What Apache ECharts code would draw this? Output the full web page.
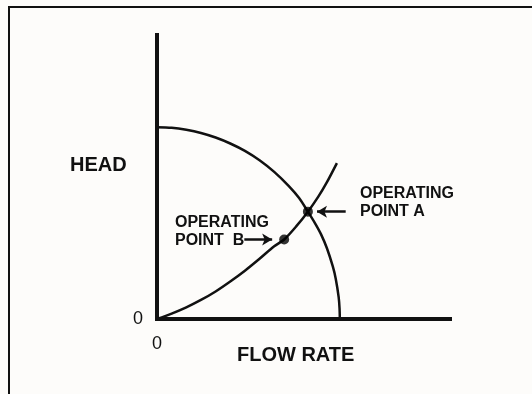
<!DOCTYPE html>
<html>
<head>
<meta charset="utf-8">
<script src="https://cdn.jsdelivr.net/npm/echarts@6/dist/echarts.min.js"></script>
<style>
  html, body { margin: 0; padding: 0; background: #fdfcfa; }
  #chart { width: 532px; height: 394px; }
</style>
</head>
<body>
<div id="chart"></div>
<script>
// Pump characteristic (head falls as flow rises), in percent of axis range
const pumpCurve = [
  [0, 67.5], [5, 67.3], [10, 66.6], [15, 65.5], [20, 63.9], [25, 61.8],
  [30, 59.2], [35, 55.9], [40, 51.8], [45, 46.8], [48.5, 42.6], [51.5, 37.8],
  [54, 33.6], [56, 29.8], [58, 24.9], [60, 18.5], [61, 14.2], [62, 7.7],
  [62.3, 3.8], [62.4, 0]
];
// System resistance curve (head rises with flow)
const systemCurve = [
  [0, 0], [5, 1.9], [10, 4.1], [15, 6.7], [20, 9.7], [25, 13.2], [30, 17],
  [35, 21.2], [40, 25.6], [43.4, 28], [47.5, 32.6], [51.5, 37.8], [55, 43],
  [58, 48.2], [61.4, 54.9]
];
// Operating points on the system curve
const operatingPoints = [
  { name: 'A', value: [51.5, 37.8] },
  { name: 'B', value: [43.4, 28] }
];
// Pointer arrows: [from, to] for each operating point
const arrowA = [[64.4, 37.8], [54.6, 37.8]];
const arrowB = [[29.8, 28], [39.3, 28]];
const axisTitles = { y: 'HEAD', x: 'FLOW RATE' };

const FONT = '"Liberation Sans", Arial, Helvetica, sans-serif';
const INK = '#111';

const chart = echarts.init(document.getElementById('chart'), null, { renderer: 'canvas' });

const zeroOnly = v => (v === 0 ? '0' : '');

chart.setOption({
  backgroundColor: '#fdfcfa',
  animation: false,
  grid: { left: 157, right: 82, top: 35, bottom: 75, containLabel: false },
  xAxis: {
    type: 'value', min: 0, max: 100, interval: 100,
    axisLine: { show: true, onZero: false, lineStyle: { color: INK, width: 4, cap: 'square' } },
    axisTick: { show: false },
    splitLine: { show: false },
    axisLabel: { formatter: zeroOnly, color: INK, fontSize: 18, fontFamily: FONT, margin: 16 }
  },
  yAxis: {
    type: 'value', min: 0, max: 100, interval: 100,
    axisLine: { show: true, onZero: false, lineStyle: { color: INK, width: 4, cap: 'square' } },
    axisTick: { show: false },
    splitLine: { show: false },
    axisLabel: { formatter: zeroOnly, color: INK, fontSize: 18, fontFamily: FONT, margin: 14 }
  },
  series: [
    {
      type: 'line', data: pumpCurve, smooth: 0.3, showSymbol: false,
      lineStyle: { color: INK, width: 2.5 }, z: 3
    },
    {
      type: 'line', data: systemCurve, smooth: 0.3, showSymbol: false,
      lineStyle: { color: INK, width: 2.5 }, z: 3,
      markLine: {
        silent: true,
        symbol: ['none', 'arrow'],
        symbolSize: [9, 10],
        lineStyle: { color: INK, width: 2.5, type: 'solid' },
        label: { show: false },
        data: [
          [{ coord: arrowA[0] }, { coord: arrowA[1] }],
          [{ coord: arrowB[0] }, { coord: arrowB[1] }]
        ]
      }
    },
    {
      type: 'scatter', data: operatingPoints, symbolSize: 10,
      itemStyle: { color: '#000' }, z: 4
    }
  ],
  graphic: [
    // frame along the top and left edges of the figure
    {
      type: 'rect', shape: { x: 9, y: 7, width: 560, height: 420 },
      style: { fill: 'none', stroke: INK, lineWidth: 2 }, silent: true
    },
    {
      type: 'text', left: 70, top: 155,
      style: { text: axisTitles.y, font: 'bold 20px ' + FONT, fill: INK }
    },
    {
      type: 'text', left: 237, top: 345,
      style: { text: axisTitles.x, font: 'bold 20px ' + FONT, fill: INK }
    },
    {
      type: 'text', left: 360, top: 185,
      style: { text: 'OPERATING\nPOINT A', font: 'bold 16px ' + FONT, lineHeight: 18, fill: INK }
    },
    {
      type: 'text', left: 175, top: 214,
      style: { text: 'OPERATING\nPOINT  B', font: 'bold 16px ' + FONT, lineHeight: 18, fill: INK }
    }
  ]
});
</script>
</body>
</html>
